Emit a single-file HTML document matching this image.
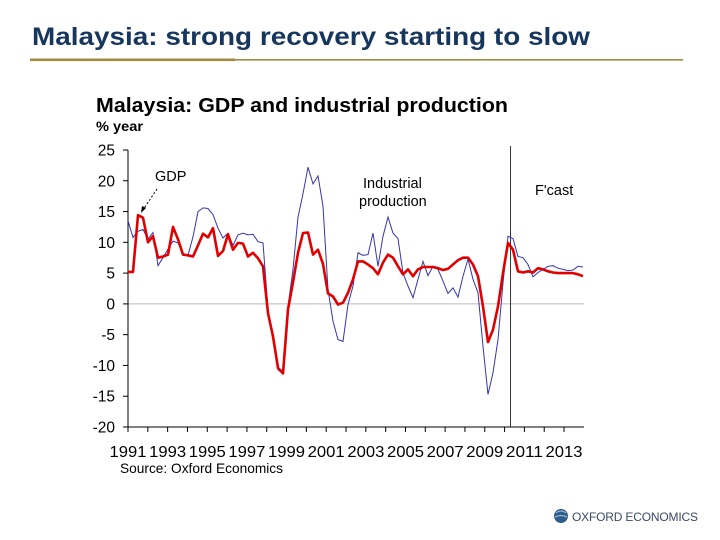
<!DOCTYPE html>
<html><head><meta charset="utf-8"><style>
body{margin:0;width:720px;height:540px;background:#fff;overflow:hidden;font-family:"Liberation Sans",Arial,sans-serif;}
svg{position:absolute;left:0;top:0}
</style></head><body>
<svg id="c" width="720" height="540">
<text x="32" y="45" font-size="25" font-weight="bold" fill="#17365d" textLength="558" lengthAdjust="spacingAndGlyphs">Malaysia: strong recovery starting to slow</text>
<rect x="30" y="59" width="653" height="1.6" fill="#a38a3c"/>
<rect x="30" y="58.5" width="205" height="2.6" fill="#a38a3c"/>
<text x="96" y="112" font-size="20" font-weight="bold" fill="#000" textLength="412" lengthAdjust="spacingAndGlyphs">Malaysia: GDP and industrial production</text>
<text x="96" y="131" font-size="14" font-weight="bold" fill="#000" textLength="47" lengthAdjust="spacingAndGlyphs">% year</text>
<g id="plot"></g>
<text x="120" y="473" font-size="14" fill="#000" textLength="163" lengthAdjust="spacingAndGlyphs">Source: Oxford Economics</text>
<g>
<circle cx="561" cy="516" r="7" fill="#2f5d8a"/>
<path d="M556 513 q5 -4 10 0 M555 517 q6 -3 12 0" stroke="#a9c4de" stroke-width="1" fill="none"/>
<text x="572" y="521" font-size="12" fill="#3a4a66" textLength="126" lengthAdjust="spacing">OXFORD ECONOMICS</text>
</g>
</svg>
<script>
const yTicks=[25,20,15,10,5,0,-5,-10,-15,-20];
const yearLabels=["1991","1993","1995","1997","1999","2001","2003","2005","2007","2009","2011","2013"];
const gdp=[5.2,5.2,14.4,14,10,11,7.5,7.7,8,12.5,10.5,8,7.9,7.7,9.5,11.4,10.8,12.3,7.8,8.6,11.3,8.8,9.9,9.8,7.7,8.3,7.4,6.1,-1.5,-5.3,-10.4,-11.3,-0.9,3.5,8.3,11.5,11.6,8,8.8,6.5,1.7,1.2,-0.1,0.2,1.8,4,6.9,6.9,6.4,5.8,4.8,6.7,8,7.5,6.1,4.8,5.6,4.5,5.6,6,6,6,5.8,5.5,5.7,6.4,7.1,7.5,7.5,6.4,4.5,-0.4,-6.2,-4.2,-0.4,5,9.9,8.8,5.3,5.1,5.3,5.1,5.8,5.6,5.3,5.1,5,5,5,5,4.8,4.5];
const ip=[13.5,10.8,11.8,12.1,10.5,11.6,6.2,7.5,8.9,10.2,9.9,8.2,7.9,10.9,15,15.6,15.5,14.5,12.3,10.7,11.5,9.5,11.2,11.5,11.2,11.3,10.1,9.9,-0.9,-5.3,-10.7,-11.3,-0.4,5.6,14.1,17.9,22.2,19.5,20.8,15.9,2.3,-2.8,-5.8,-6.1,-0.1,2.9,8.3,7.9,8,11.5,6.1,11,14.1,11.5,10.6,5,2.9,1,4,6.9,4.6,6.1,5.6,3.7,1.7,2.6,1.1,4.5,7.3,4,1.8,-6.9,-14.7,-11.2,-5.8,3.4,11,10.6,7.7,7.5,6.4,4.4,5.1,5.6,6.1,6.2,5.8,5.6,5.4,5.5,6.1,6];
const startYear=1991, forecastStart=2010.3;
const NS="http://www.w3.org/2000/svg";
const X0=128, PXY=19.82, Y25=150, Y_20=427;
function xYear(y){return X0+(y-startYear)*PXY;}
function xQ(i){return X0+i*5;}
function yV(v){return Y25+(25-v)*(Y_20-Y25)/45;}
const g=document.getElementById('plot');
function mk(tag,attrs){const e=document.createElementNS(NS,tag);for(const k in attrs)e.setAttribute(k,attrs[k]);g.appendChild(e);return e;}
const z=mk('line',{x1:X0,x2:584,y1:yV(0),y2:yV(0),stroke:'#bbb','stroke-width':1});


const ya=mk('line',{x1:X0,x2:X0,y1:Y25,y2:Y_20,stroke:'#000','stroke-width':1});


yTicks.forEach(v=>{
 mk('line',{x1:X0-5,x2:X0,y1:yV(v),y2:yV(v),stroke:'#000','stroke-width':1});
 const t=mk('text',{x:X0-13,y:yV(v)+5.5,'font-size':15.5,'text-anchor':'end',fill:'#000'});
 t.textContent=v;
 
 
});
const xa=mk('line',{x1:X0,x2:584,y1:Y_20,y2:Y_20,stroke:'#000','stroke-width':1});


for(let y=startYear;y<=2013;y++){mk('line',{x1:xYear(y),x2:xYear(y),y1:Y_20,y2:Y_20+5,stroke:'#000','stroke-width':1});}
yearLabels.forEach(l=>{
 const t=mk('text',{x:xYear(+l)-18.5,y:457,'font-size':16,fill:'#000',textLength:37,lengthAdjust:'spacingAndGlyphs'});
 t.textContent=l;
 
 
});
const fl=mk('line',{x1:xYear(forecastStart),x2:xYear(forecastStart),y1:146,y2:Y_20,stroke:'#333','stroke-width':1});


function path(arr){return arr.map((v,i)=>(i?'L':'M')+xQ(i).toFixed(1)+' '+yV(v).toFixed(1)).join(' ');}
const pi=mk('path',{d:path(ip),stroke:'#3535b0','stroke-width':1,fill:'none'});


const pg=mk('path',{d:path(gdp),stroke:'#e00000','stroke-width':2.6,fill:'none','stroke-linejoin':'round'});


function lab(txt,x,y,name){const t=mk('text',{x:x,y:y,'font-size':14.5,fill:'#000'});t.textContent=txt;return t;}
lab('GDP',155,181,'gdp-label');
const ar=mk('path',{d:'M157 189 L143 210',stroke:'#000','stroke-width':1,'stroke-dasharray':'2,2',fill:'none'});


const ah=mk('path',{d:'M141 213 L142 206 L146 208 Z',fill:'#000'});


lab('Industrial',363,188,'ip-label-line1');
lab('production',359,206,'ip-label-line2');
lab("F'cast",535,195,'forecast-label');
</script>
</body></html>
